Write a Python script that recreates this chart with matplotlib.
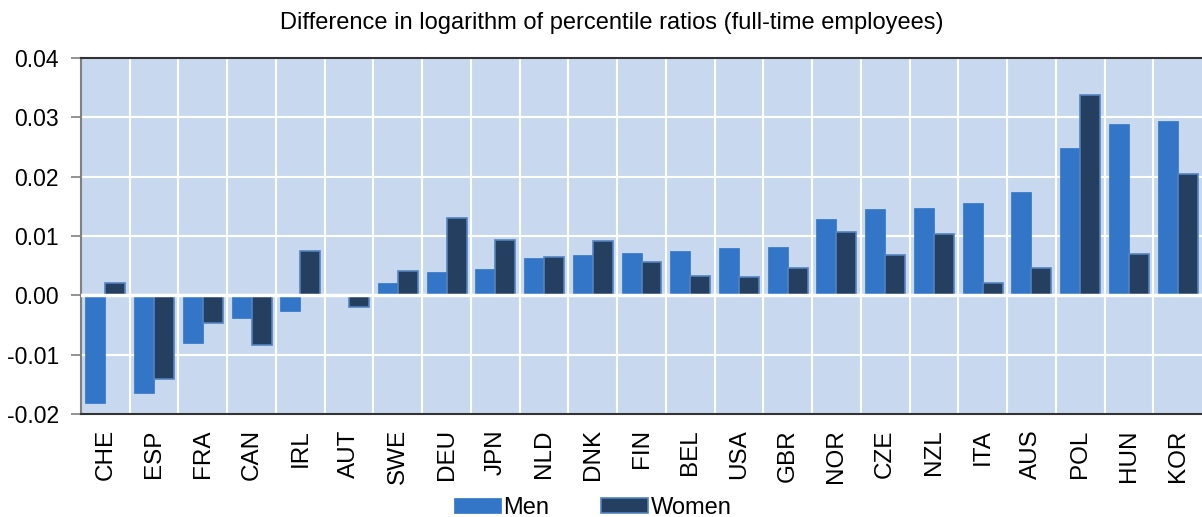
import matplotlib.pyplot as plt
import numpy as np

plt.rcParams['font.family'] = ['Liberation Sans', 'DejaVu Sans']

# データ
countries = ["CHE", "ESP", "FRA", "CAN", "IRL", "AUT", "SWE", "DEU", "JPN", "NLD", "DNK", "FIN",
             "BEL", "USA", "GBR", "NOR", "CZE", "NZL", "ITA", "AUS", "POL", "HUN", "KOR"]
men = [-0.0182, -0.0164, -0.0080, -0.0039, -0.0026, 0.0000, 0.0021, 0.0040, 0.0045, 0.0063, 0.0068, 0.0071,
       0.0074, 0.0079, 0.0082, 0.0129, 0.0145, 0.0148, 0.0155, 0.0174, 0.0248, 0.0288, 0.0293]
women = [0.0020, -0.0141, -0.0046, -0.0083, 0.0075, -0.0019, 0.0041, 0.0130, 0.0094, 0.0065, 0.0091, 0.0057,
         0.0033, 0.0031, 0.0046, 0.0107, 0.0068, 0.0104, 0.0020, 0.0046, 0.0337, 0.0070, 0.0204]
yticks = [-0.02, -0.01, 0.00, 0.01, 0.02, 0.03, 0.04]

fig = plt.figure(figsize=(12.02, 5.17), dpi=100)
ax = fig.add_axes([0.0674, 0.1992, 0.9326, 0.6886])
ax.set_facecolor("#c8d9ef")

x = np.arange(len(countries))
w = 0.41
ax.bar(x - w / 2, men, w, color="#3375c6", edgecolor="#3375c6", linewidth=0.5, label="Men", zorder=3)
ax.bar(x + w / 2, women, w, color="#243f60", edgecolor="#5483c0", linewidth=1.2, label="Women", zorder=3)

# グリッド（カテゴリの境界に縦線）
ax.set_xlim(-0.5, len(countries) - 0.5)
ax.set_ylim(-0.02, 0.04)
for b in np.arange(0.5, len(countries) - 0.5):
    ax.axvline(b, color="white", linewidth=1.5, zorder=1)
for t in yticks:
    ax.axhline(t, color="white", linewidth=1.5, zorder=1)
ax.axhline(0, color="white", linewidth=2.5, zorder=4)

ax.set_xticks(x)
ax.set_xticklabels(countries, rotation=90, fontsize=17.5)
ax.tick_params(axis="x", length=0, pad=11)
ax.set_yticks(yticks)
ax.set_yticklabels([f"{t:.2f}" for t in yticks], fontsize=16.5)
ax.tick_params(axis="y", length=7, width=1.2, color="#808080", pad=9)

ax.spines["left"].set_color("#808080")
ax.spines["left"].set_linewidth(1.5)
ax.spines["top"].set_color("#333333")
ax.spines["top"].set_linewidth(1.5)
ax.spines["bottom"].set_color("#333333")
ax.spines["bottom"].set_linewidth(1.5)
ax.spines["right"].set_visible(False)

fig.text(0.509, 0.955, "Difference in logarithm of percentile ratios (full-time employees)",
         ha="center", va="center", fontsize=17)

fig.legend(loc="lower center", bbox_to_anchor=(0.493, -0.045), ncol=2, frameon=False,
           fontsize=17, handlelength=2.0, handleheight=0.6, handletextpad=0.1, columnspacing=2.2)

fig.savefig("out.png", dpi=100)
